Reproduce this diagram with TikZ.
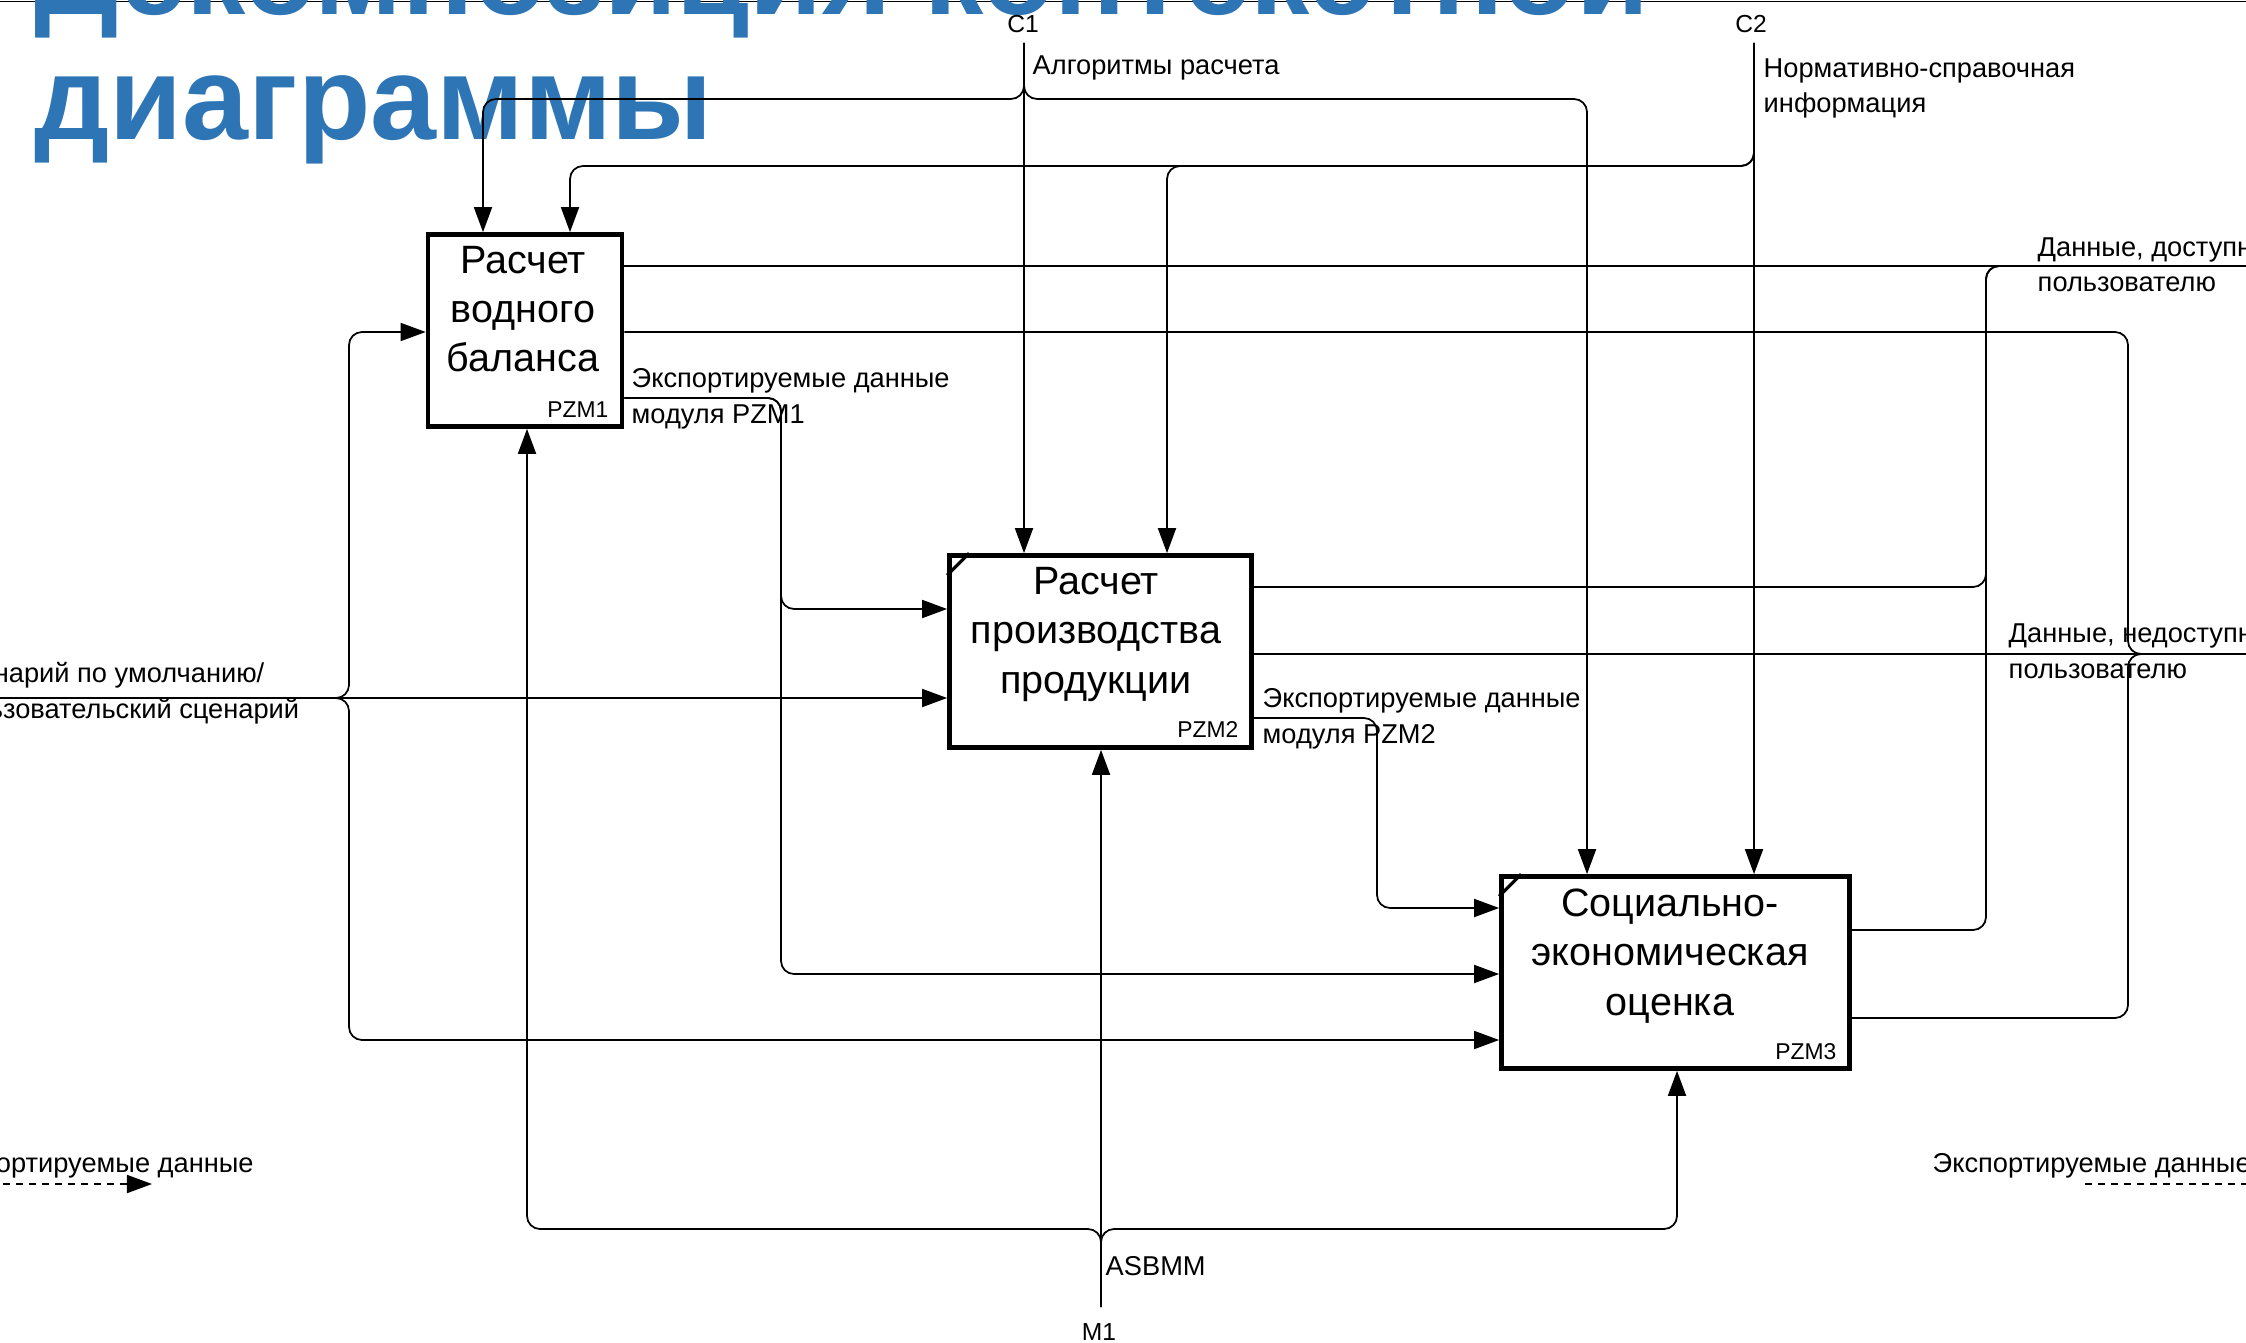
\documentclass[tikz,border=0pt]{standalone}
\usepackage{fontspec}
\setmainfont{Liberation Sans}
\usepackage{xcolor}
\usepackage{tikz}
\usetikzlibrary{arrows.meta}
\definecolor{titleBlue}{HTML}{2E75B6}
\tikzset{
  idefBox/.style={draw, line width=1.3pt, minimum height=1.92cm, inner sep=0pt},
  idefText/.style={align=center, anchor=base, inner sep=0pt, font=\fontsize{11.24pt}{13.94pt}\selectfont},
  idefCode/.style={anchor=base east, inner sep=0pt, font=\fontsize{6.5pt}{7pt}\selectfont},
  idefLabel/.style={align=left, anchor=base west, inner sep=0pt, font=\fontsize{7.75pt}{9.96pt}\selectfont},
  idefIcom/.style={anchor=base, inner sep=0pt, font=\fontsize{7pt}{8pt}\selectfont},
  idefArc/.style={line width=0.5pt, rounded corners=0.13cm},
  idefTip/.style={-{Triangle[length=0.25cm,width=0.18cm]}},
  idefDash/.style={line width=0.5pt, dash pattern=on 2pt off 1.7pt}
}

\begin{document}
\begin{tikzpicture}[x=0.01cm, y=-0.01cm]
  \useasboundingbox (0,0) rectangle (2246,1343);
  \clip (0,0) rectangle (2246,1343);

  \draw[line width=0.45pt] (0,1.5) -- (2246,1.5);
  \node[anchor=base west, align=left, inner sep=0pt, text=titleBlue,
        font=\fontsize{33.7pt}{35.6pt}\selectfont\bfseries] (slideTitle) at (34,140)
        {Декомпозиция контекстной\\диаграммы};

  % activity boxes
  \node[idefBox, minimum width=1.94cm] (pzm1) at (525,330.5) {};
  \node[idefBox, minimum width=3.02cm] (pzm2) at (1100.5,651.5) {};
  \node[idefBox, minimum width=3.48cm] (pzm3) at (1675.5,972.5) {};

  \draw[line width=0.9pt] ([yshift=-0.22cm]pzm2.north west) -- ([xshift=0.22cm]pzm2.north west);
  \draw[line width=0.9pt] ([yshift=-0.22cm]pzm3.north west) -- ([xshift=0.22cm]pzm3.north west);

  \node[idefText] (pzm1Name) at (523,372) {Расчет\\водного\\баланса};
  \node[idefText] (pzm2Name) at (1096,693) {Расчет\\производства\\продукции};
  \node[idefText] (pzm3Name) at (1670,1015) {Социально-\\экономическая\\оценка};

  \node[idefCode] (pzm1Code) at (609,417) {PZM1};
  \node[idefCode] (pzm2Code) at (1239,737) {PZM2};
  \node[idefCode] (pzm3Code) at (1837,1059) {PZM3};

  % boundary arrows
  \coordinate (c1) at (1024,43);
  \coordinate (c2) at (1754,43);
  \coordinate (m1) at (1101,1307);
  \coordinate (in1) at (-10,698);
  \coordinate (out1) at (2260,266);
  \coordinate (out2) at (2260,654);

  \node[idefIcom] (c1Code) at (1023,33) {C1};
  \node[idefIcom] (c2Code) at (1751,33) {C2};
  \node[idefIcom] (m1Code) at (1099,1340) {M1};

  % controls
  \draw[idefArc, idefTip] (c1) -- (pzm2.north -| c1);
  \draw[idefArc, idefTip] (c1) |- (483,99) -- (pzm1.north -| 483,0);
  \draw[idefArc, idefTip] (c1) |- (1587,99) -- (pzm3.north -| 1587,0);
  \draw[idefArc, idefTip] (c2) -- (pzm3.north -| c2);
  \draw[idefArc, idefTip] (c2) |- (570,166) -- (pzm1.north -| 570,0);
  \draw[idefArc, idefTip] (c2) |- (1167,166) -- (pzm2.north -| 1167,0);

  % mechanism
  \draw[idefArc, idefTip] (m1) -- (pzm2.south -| m1);
  \draw[idefArc, idefTip] (m1) |- (527,1229) -- (pzm1.south -| 527,0);
  \draw[idefArc, idefTip] (m1) |- (1677,1229) -- (pzm3.south -| 1677,0);

  % inputs
  \draw[idefArc, idefTip] (in1) -- (pzm2.west |- in1);
  \draw[idefArc, idefTip] (in1) -| (349,332) -- (pzm1.west |- 0,332);
  \draw[idefArc, idefTip] (in1) -| (349,1040) -- (pzm3.west |- 0,1040);

  % outputs
  \draw[idefArc] (pzm1.east |- out1) -- (out1);
  \draw[idefArc] (pzm1.east |- 0,332) -| (2128,654) -- (out2);
  \draw[idefArc, idefTip] (pzm1.east |- 0,398) -| (781,609) -- (pzm2.west |- 0,609);
  \draw[idefArc, idefTip] (pzm1.east |- 0,398) -| (781,974) -- (pzm3.west |- 0,974);
  \draw[idefArc] (pzm2.east |- 0,587) -| (1986,266) -- (out1);
  \draw[idefArc] (pzm2.east |- out2) -- (out2);
  \draw[idefArc, idefTip] (pzm2.east |- 0,718) -| (1377,908) -- (pzm3.west |- 0,908);
  \draw[idefArc] (pzm3.east |- 0,930) -| (1986,266) -- (out1);
  \draw[idefArc] (pzm3.east |- 0,1018) -| (2128,654) -- (out2);

  \node[idefLabel] (c1Name) at (1032,75) {Алгоритмы расчета};
  \node[idefLabel] (c2Name) at (1763,113) {Нормативно-справочная\\информация};
  \node[idefLabel] (m1Name) at (1105,1275) {ASBMM};
  \node[idefLabel] (in1Name) at (-57,718) {Сценарий по умолчанию/\\пользовательский сценарий};
  \node[idefLabel] (out1Name) at (2037,292) {Данные, доступные\\пользователю};
  \node[idefLabel] (out2Name) at (2008,678) {Данные, недоступные\\пользователю};
  \node[idefLabel] (exp1Name) at (631,423) {Экспортируемые данные\\модуля PZM1};
  \node[idefLabel] (exp2Name) at (1262,743) {Экспортируемые данные\\модуля PZM2};

  % legend
  \coordinate (expInA) at (-10,1184);
  \coordinate (expInB) at (152,1184);
  \coordinate (expOutA) at (2085,1184);
  \coordinate (expOutB) at (2260,1184);
  \draw[idefDash, idefTip] (expInA) -- (expInB);
  \draw[idefDash] (expOutA) -- (expOutB);
  \node[idefLabel] (expInName) at (-65,1172) {Экспортируемые данные};
  \node[idefLabel] (expOutName) at (1932,1172) {Экспортируемые данные};
\end{tikzpicture}
\end{document}
